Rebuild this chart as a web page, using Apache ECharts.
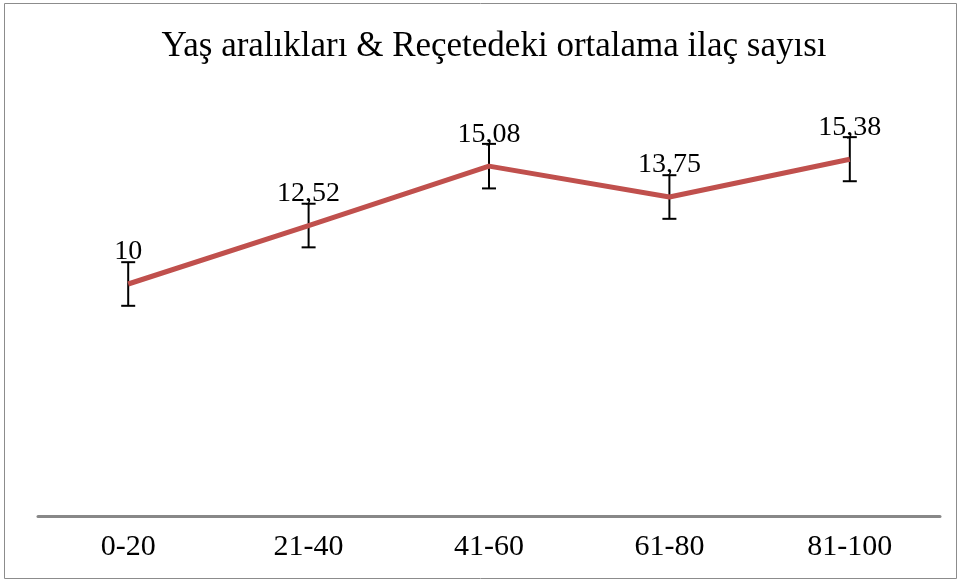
<!DOCTYPE html>
<html>
<head>
<meta charset="utf-8">
<script src="https://cdn.jsdelivr.net/npm/echarts@6/dist/echarts.min.js"></script>
<style>
  html, body { margin: 0; padding: 0; background: #fff; }
  #chart { width: 958px; height: 581px; }
</style>
</head>
<body>
<div id="chart"></div>
<script>
// --- Data ---
const ageGroups = ['0-20', '21-40', '41-60', '61-80', '81-100'];
const avgDrugs = [10, 12.52, 15.08, 13.75, 15.38];
const errorMargin = [0.94, 0.94, 0.96, 0.94, 0.95];

const chart = echarts.init(document.getElementById('chart'));
const serif = '"Liberation Serif", "DejaVu Serif", serif';

// error bars: [x index, low, high]
const errData = avgDrugs.map((v, i) => [i, v - errorMargin[i], v + errorMargin[i]]);

const option = {
    animation: false,
    title: {
        text: 'Yaş aralıkları & Reçetedeki ortalama ilaç sayısı',
        left: 489,
        textAlign: 'center',
        top: 24,
        textStyle: { fontFamily: serif, fontSize: 35, fontWeight: 'normal', color: '#000' }
    },
    graphic: [{
        type: 'rect',
        shape: { x: 4.5, y: 3.5, width: 952, height: 575 },
        style: { fill: 'none', stroke: '#8c8c8c', lineWidth: 1 },
        silent: true
    }],
    grid: { left: 38, right: 18, top: 52, bottom: 65 },
    xAxis: {
        type: 'category',
        data: ageGroups,
        boundaryGap: true,
        axisLine: { lineStyle: { color: '#888', width: 3 } },
        axisTick: { show: false },
        axisLabel: { fontFamily: serif, fontSize: 30, color: '#000', margin: 16 }
    },
    yAxis: {
        type: 'value',
        min: 0,
        max: 20,
        show: false,
        splitLine: { show: false }
    },
    series: [{
        type: 'line',
        data: avgDrugs,
        symbol: 'circle',
        symbolSize: 0,
        showSymbol: true,
        lineStyle: { color: '#C0504D', width: 5 },
        itemStyle: { color: '#C0504D', opacity: 0 },
        z: 3,
        label: {
            show: true,
            position: 'top',
            distance: 18,
            fontFamily: serif,
            fontSize: 28,
            color: '#000',
            opacity: 1,
            formatter: p => String(p.value).replace('.', ',')
        }
    }, {
        type: 'custom',
        data: errData,
        z: 2,
        renderItem: function (params, api) {
            const x = api.value(0);
            const lo = api.coord([x, api.value(1)]);
            const hi = api.coord([x, api.value(2)]);
            const cap = 7;
            const style = { stroke: '#000', lineWidth: 2 };
            return {
                type: 'group',
                children: [
                    { type: 'line', shape: { x1: hi[0], y1: hi[1], x2: lo[0], y2: lo[1] }, style: style },
                    { type: 'line', shape: { x1: hi[0] - cap, y1: hi[1], x2: hi[0] + cap, y2: hi[1] }, style: style },
                    { type: 'line', shape: { x1: lo[0] - cap, y1: lo[1], x2: lo[0] + cap, y2: lo[1] }, style: style }
                ]
            };
        }
    }]
};

chart.setOption(option);
</script>
</body>
</html>
